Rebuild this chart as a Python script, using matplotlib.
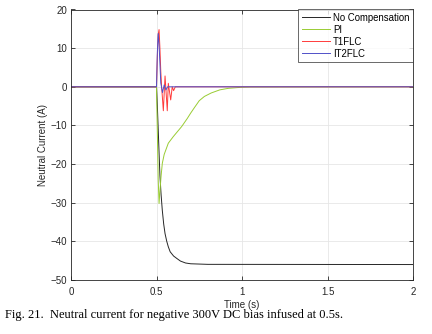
import matplotlib
matplotlib.use("Agg")
import matplotlib.pyplot as plt
import numpy as np

# ---- data ----
t_nocomp = [0, 0.5, 0.505, 0.51, 0.515, 0.52, 0.527, 0.534, 0.542, 0.55, 0.56, 0.569,
            0.58, 0.6, 0.618, 0.64, 0.67, 0.7, 0.8, 2.0]
i_nocomp = [0, 0, -5, -11, -17, -23, -28, -32, -35.5, -38, -40, -41.4,
            -42.7, -43.8, -44.4, -45.1, -45.6, -45.8, -45.95, -46]

t_pi = [0, 0.5, 0.505, 0.51, 0.515, 0.52, 0.527, 0.534, 0.545, 0.569, 0.598, 0.647,
        0.68, 0.70, 0.72, 0.75, 0.78, 0.82, 0.87, 0.92, 0.99, 1.05, 2.0]
i_pi = [0, 0, -12, -24, -30.2, -27, -23, -19.8, -17.5, -14.6, -12.9, -10.3,
        -8.2, -6.8, -5.5, -3.6, -2.5, -1.6, -0.8, -0.4, -0.15, -0.05, 0]

t_t1 = [0, 0.5, 0.505, 0.51, 0.515, 0.52, 0.525, 0.53, 0.54, 0.55, 0.563, 0.569,
        0.583, 0.592, 0.60, 0.61, 2.0]
i_t1 = [0, 0, 8, 13.5, 14.8, 10, 4, 0, -6.2, 2.8, -6.2, 0.9,
        -3.4, 0, -1, 0, 0]

t_it2 = [0, 0.5, 0.505, 0.51, 0.515, 0.52, 0.525, 0.535, 0.545, 0.555, 0.565, 2.0]
i_it2 = [0, 0, 9, 13.8, 11, 6, 1, -1.5, 0.5, -0.8, 0, 0]

series_names = ["No Compensation", "PI", "T1FLC", "IT2FLC"]
series_colors = ["#262626", "#99cc33", "#ff3b3b", "#5050c8"]

xticks = [0, 0.5, 1, 1.5, 2]
xtick_labels = ["0", "0.5", "1", "1.5", "2"]
yticks = [-50, -40, -30, -20, -10, 0, 10, 20]

# ---- figure ----
plt.rcParams["font.family"] = ["Liberation Sans", "DejaVu Sans"]
fig = plt.figure(figsize=(4.32, 3.34), dpi=100)
ax = fig.add_axes([71/432, 1-280/334, (413-71)/432, (280-9.5)/334])

data = [(t_nocomp, i_nocomp), (t_pi, i_pi), (t_t1, i_t1), (t_it2, i_it2)]
for (t, v), name, c in zip(data, series_names, series_colors):
    ax.plot(t, v, color=c, lw=0.7, label=name)

ax.set_xlim(0, 2)
ax.set_ylim(-50, 20)
ax.set_xticks(xticks)
ax.set_xticklabels(xtick_labels)
ax.set_yticks(yticks)
ax.grid(True, color="#e6e6e6", lw=0.6)
ax.set_axisbelow(True)
ax.tick_params(direction="in", length=3, width=0.6, labelsize=7,
               colors="#262626", top=True, right=True)
ax.tick_params(axis="x", pad=5)
ax.tick_params(axis="y", pad=3)
ax.tick_params(labeltop=False, labelright=False)
for s in ax.spines.values():
    s.set_color("#262626")
    s.set_linewidth(0.6)

ax.set_xlabel("Time (s)", fontsize=7, color="#262626", labelpad=2)
ax.set_ylabel("Neutral Current (A)", fontsize=7, color="#262626", labelpad=2)

leg = ax.legend(loc="upper right", fontsize=6.9, frameon=True, fancybox=False,
                borderaxespad=0, handlelength=3.0, handletextpad=0.3,
                labelspacing=0.2, borderpad=0.35)
leg.get_frame().set_edgecolor("#262626")
leg.get_frame().set_linewidth(0.6)

fig.text(5/432, 1-315/334, "Fig. 21.  Neutral current for negative 300V DC bias infused at 0.5s.",
         fontsize=9.0, family="Liberation Serif", va="center", ha="left")

fig.savefig("out.png", dpi=100)
